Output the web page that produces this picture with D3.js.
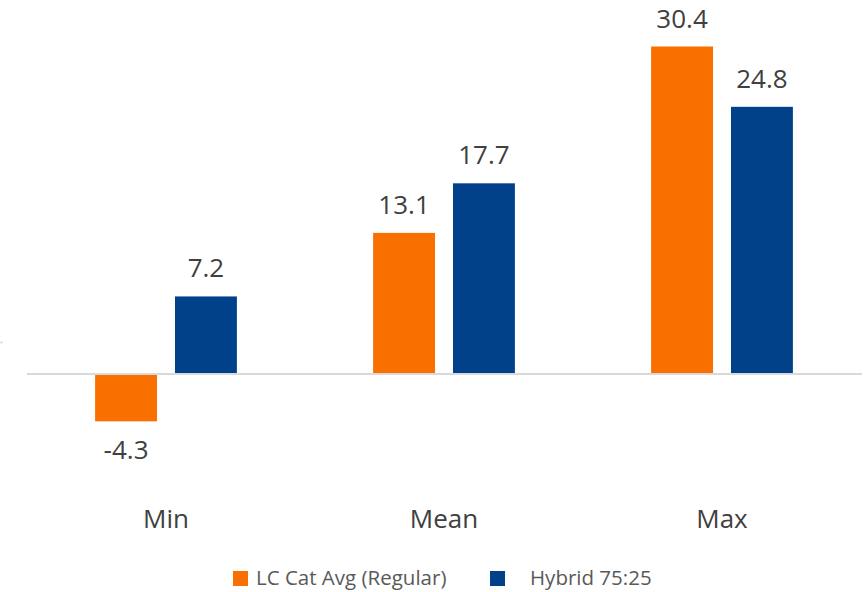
<!DOCTYPE html>
<html><head><meta charset="utf-8">
<script src="https://cdn.jsdelivr.net/npm/d3@7"></script>
<style>html,body{margin:0;padding:0;background:#fff;}svg{display:block;}</style>
</head><body>
<svg id="c" width="868" height="592"></svg>
<script>
const categories = ["Min", "Mean", "Max"];
const seriesNames = ["LC Cat Avg (Regular)", "Hybrid 75:25"];
const lcCatAvg = [-4.3, 13.1, 30.4];
const hybrid = [7.2, 17.7, 24.8];
const colors = ["#F97000", "#00418A"];

const svg = d3.select("#c");
const font = "'Open Sans', 'Noto Sans', sans-serif";
const textColor = "#404040";

const x0 = d3.scaleBand().domain(categories).range([27, 861]).paddingInner(0.49).paddingOuter(0.245);
const x1 = d3.scaleBand().domain(seriesNames).range([0, x0.bandwidth()]).paddingInner(0.225).paddingOuter(0);
const y = d3.scaleLinear().domain([0, 30.4]).range([374, 46.5]);

const data = categories.map((c, i) => ({cat: c, vals: [
  {s: seriesNames[0], v: lcCatAvg[i], color: colors[0]},
  {s: seriesNames[1], v: hybrid[i], color: colors[1]}
]}));

// baseline axis
svg.append("line").attr("x1", 27).attr("x2", 862).attr("y1", y(0)).attr("y2", y(0))
  .attr("stroke", "#D9D9D9").attr("stroke-width", 2);
// tiny remnant mark at left
svg.append("line").attr("x1", 0).attr("x2", 3).attr("y1", 342.5).attr("y2", 342.5)
  .attr("stroke", "#D9D9D9").attr("stroke-width", 1.5);

const g = svg.selectAll("g.cat").data(data).enter().append("g")
  .attr("transform", d => `translate(${x0(d.cat)},0)`);

g.selectAll("rect").data(d => d.vals).enter().append("rect")
  .attr("x", d => x1(d.s)).attr("width", x1.bandwidth())
  .attr("y", d => d.v >= 0 ? y(d.v) : y(0) + 1)
  .attr("height", d => Math.abs(y(d.v) - y(0)) - (d.v >= 0 ? 1 : 0))
  .attr("fill", d => d.color);

g.selectAll("text.val").data(d => d.vals).enter().append("text")
  .attr("class", "val")
  .attr("x", d => x1(d.s) + x1.bandwidth() / 2)
  .attr("y", d => d.v >= 0 ? y(d.v) - 19 : y(d.v) + 39)
  .attr("text-anchor", "middle")
  .attr("font-family", font).attr("font-size", 26).attr("fill", textColor)
  .text(d => d.v.toFixed(1));

// category labels
const xAxis = svg.append("g").attr("transform", "translate(0,528)");
xAxis.selectAll("text").data(categories).enter().append("text")
  .attr("x", d => x0(d) + x0.bandwidth() / 2)
  .attr("text-anchor", "middle")
  .attr("font-family", font).attr("font-size", 26).attr("fill", textColor)
  .text(d => d);

// legend
const legend = [
  {name: seriesNames[0], color: colors[0], sx: 233, tx: 256},
  {name: seriesNames[1], color: colors[1], sx: 490, tx: 530}
];
const lg = svg.append("g");
lg.selectAll("rect").data(legend).enter().append("rect")
  .attr("x", d => d.sx).attr("y", 571).attr("width", 15).attr("height", 15)
  .attr("fill", d => d.color);
lg.selectAll("text").data(legend).enter().append("text")
  .attr("x", d => d.tx).attr("y", 585)
  .attr("font-family", font).attr("font-size", 20.5).attr("fill", "#595959")
  .text(d => d.name);
</script>
</body></html>
